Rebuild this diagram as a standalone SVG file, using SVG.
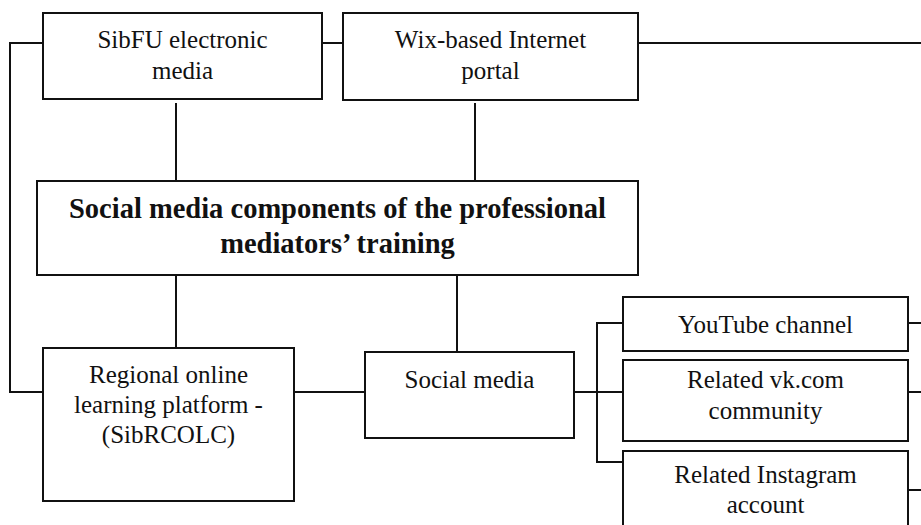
<svg xmlns="http://www.w3.org/2000/svg" width="921" height="525" viewBox="0 0 921 525">
<style>
.box{fill:#fff;stroke:#111;stroke-width:2}
.ln{fill:none;stroke:#111;stroke-width:2}
.t{font-family:"Liberation Serif","Times New Roman",serif;font-size:25px;fill:#111;text-anchor:middle}
.b{font-family:"Liberation Serif","Times New Roman",serif;font-size:28.5px;font-weight:bold;fill:#111;text-anchor:middle}
</style>
<rect width="921" height="525" fill="#fff"/>
<g id="connectors">
<polyline class="ln" points="43,43 10,43 10,392 43,392"/>
<line class="ln" x1="322" y1="43" x2="343" y2="43"/>
<line class="ln" x1="638" y1="43" x2="921" y2="43"/>
<line class="ln" x1="176" y1="103" x2="176" y2="181"/>
<line class="ln" x1="475" y1="103" x2="475" y2="181"/>
<line class="ln" x1="176" y1="275" x2="176" y2="348"/>
<line class="ln" x1="457" y1="275" x2="457" y2="352"/>
<line class="ln" x1="294" y1="392" x2="365" y2="392"/>
<line class="ln" x1="574" y1="392" x2="623" y2="392"/>
<polyline class="ln" points="623,323 597,323 597,462 623,462"/>
<line class="ln" x1="908" y1="323" x2="921" y2="323"/>
<line class="ln" x1="908" y1="392" x2="921" y2="392"/>
<line class="ln" x1="908" y1="490" x2="921" y2="490"/>
</g>
<g id="sibfu">
<rect class="box" x="43" y="13" width="279" height="86"/>
<text class="t" x="182.5" y="48">SibFU electronic</text>
<text class="t" x="182.5" y="79">media</text>
</g>
<g id="wix">
<rect class="box" x="343" y="13" width="295" height="87"/>
<text class="t" x="490.5" y="48">Wix-based Internet</text>
<text class="t" x="490.5" y="79">portal</text>
</g>
<g id="central">
<rect class="box" x="37" y="181" width="601" height="94"/>
<text class="b" x="337.5" y="218">Social media components of the professional</text>
<text class="b" x="337.5" y="253">mediators’ training</text>
</g>
<g id="regional">
<rect class="box" x="43" y="348" width="251" height="153"/>
<text class="t" x="168.5" y="383">Regional online</text>
<text class="t" x="168.5" y="413">learning platform -</text>
<text class="t" x="168.5" y="443">(SibRCOLC)</text>
</g>
<g id="social">
<rect class="box" x="365" y="352" width="209" height="86"/>
<text class="t" x="469.5" y="388">Social media</text>
</g>
<g id="youtube">
<rect class="box" x="623" y="297" width="285" height="54"/>
<text class="t" x="765.5" y="333">YouTube channel</text>
</g>
<g id="vk">
<rect class="box" x="623" y="360" width="285" height="81"/>
<text class="t" x="765.5" y="388">Related vk.com</text>
<text class="t" x="765.5" y="419">community</text>
</g>
<g id="instagram">
<rect class="box" x="623" y="451" width="285" height="100"/>
<text class="t" x="765.5" y="483">Related Instagram</text>
<text class="t" x="765.5" y="513">account</text>
</g>
</svg>
